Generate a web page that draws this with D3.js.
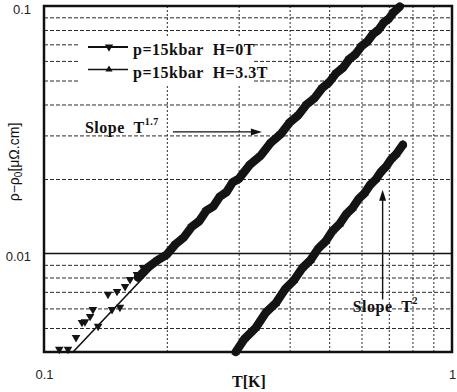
<!DOCTYPE html>
<html><head><meta charset="utf-8">
<script src="https://cdn.jsdelivr.net/npm/d3@7"></script>
<style>
html,body{margin:0;padding:0;background:#fff;}
svg{display:block;}
</style></head>
<body>
<svg id="chart" width="457" height="392"></svg>
<script>
// ---- data ----
const xTickValues = [0.1, 1];
const xTickLabels = ["0.1", "1"];
const yTickValues = [0.01, 0.1];
const yTickLabels = ["0.01", "0.1"];
const xGrid = [0.2, 0.3, 0.4, 0.5, 0.6, 0.7, 0.8, 0.9];
const yGrid = [0.005, 0.006, 0.007, 0.008, 0.009, 0.02, 0.03, 0.04, 0.05, 0.06, 0.07, 0.08, 0.09];

// p=15kbar H=0T (down triangles) - dense band
const h0T   = [0.17, 0.18, 0.19, 0.20, 0.21, 0.22, 0.23, 0.24, 0.25, 0.26, 0.27, 0.28, 0.29, 0.30, 0.32, 0.34, 0.36, 0.38, 0.40, 0.42, 0.44, 0.46, 0.48, 0.50, 0.52, 0.54, 0.56, 0.58, 0.60, 0.62, 0.64, 0.66, 0.68, 0.70, 0.72, 0.745];
const h0Rho = [0.0080, 0.0088, 0.0094, 0.0099, 0.0109, 0.0116, 0.0128, 0.0135, 0.0149, 0.0155, 0.0170, 0.0177, 0.0194, 0.0200, 0.0229, 0.0249, 0.0281, 0.0303, 0.0338, 0.0362, 0.0400, 0.0424, 0.0465, 0.0492, 0.0535, 0.0562, 0.0610, 0.0638, 0.0688, 0.0718, 0.0770, 0.0800, 0.0856, 0.0888, 0.0945, 0.0995];
// p=15kbar H=0T low-temperature points (scattered)
const h0LowT   = [0.109, 0.1145, 0.1198, 0.1239, 0.126, 0.1297, 0.1318, 0.1357, 0.1435, 0.1468, 0.151, 0.1535, 0.158, 0.1625, 0.169, 0.1748];
const h0LowRho = [0.0041, 0.0041, 0.00458, 0.00527, 0.0053, 0.00557, 0.00594, 0.00508, 0.00684, 0.00594, 0.00703, 0.00606, 0.00736, 0.00785, 0.00823, 0.00878];

// p=15kbar H=3.3T (up triangles)
const h33T   = [0.295, 0.31, 0.33, 0.35, 0.37, 0.39, 0.41, 0.43, 0.45, 0.47, 0.49, 0.51, 0.53, 0.55, 0.57, 0.59, 0.61, 0.63, 0.65, 0.67, 0.69, 0.71, 0.73, 0.758];
const h33Rho = [0.0040, 0.00452, 0.00500, 0.00578, 0.00630, 0.00718, 0.00780, 0.00875, 0.00940, 0.01048, 0.01120, 0.01236, 0.01315, 0.01440, 0.01525, 0.01660, 0.01750, 0.01895, 0.01990, 0.02140, 0.02250, 0.02410, 0.02520, 0.0275];

// T^1.7 fit line end points
const fitT   = [0.1178, 0.745];
const fitRho = [0.0040, 0.1000];

const legendLabels = ["p=15kbar  H=0T", "p=15kbar  H=3.3T"];

// ---- layout ----
const svg = d3.select("#chart");
const L = 44, R = 452, T = 6, B = 352;
const x = d3.scaleLog().domain([0.1, 1]).range([L, R]);
const y = d3.scaleLog().domain([0.004, 0.1]).range([B, T]);

// grid
const gH = svg.append("g").attr("transform", `translate(${L},0)`)
  .call(d3.axisLeft(y).tickValues(yGrid).tickSize(-(R - L)).tickFormat(""));
gH.select(".domain").remove();
gH.selectAll("line").attr("stroke", "#2a2a2a").attr("stroke-width", 1).attr("stroke-dasharray", "4,2");

const gV = svg.append("g").attr("transform", `translate(0,${B})`)
  .call(d3.axisBottom(x).tickValues(xGrid).tickSize(-(B - T)).tickFormat(""));
gV.select(".domain").remove();
gV.selectAll("line").attr("stroke", "#2a2a2a").attr("stroke-width", 1).attr("stroke-dasharray", "2,2");

// major line at 0.01
svg.append("line").attr("x1", L).attr("x2", R).attr("y1", y(0.01)).attr("y2", y(0.01))
  .attr("stroke", "#111").attr("stroke-width", 1.6);

// legend background (covers grid)
svg.append("rect").attr("x", 78).attr("y", 36).attr("width", 175).attr("height", 50).attr("fill", "#fff");

// fit line
const line = d3.line().x(d => x(d[0])).y(d => y(d[1]));
svg.append("path").datum(fitT.map((t, i) => [t, fitRho[i]]))
  .attr("d", line).attr("fill", "none").attr("stroke", "#111").attr("stroke-width", 1.6);

// bands
const h0 = h0T.map((t, i) => [t, h0Rho[i]]);
const h0Low = h0LowT.map((t, i) => [t, h0LowRho[i]]);
const h33 = h33T.map((t, i) => [t, h33Rho[i]]);

svg.append("path").datum(h0).attr("d", line).attr("fill", "none")
  .attr("stroke", "#141414").attr("stroke-width", 8.5).attr("stroke-linejoin", "round").attr("stroke-linecap", "round");
svg.append("path").datum(h33).attr("d", line).attr("fill", "none")
  .attr("stroke", "#141414").attr("stroke-width", 8.5).attr("stroke-linejoin", "round").attr("stroke-linecap", "round");

const tri = d3.symbol().type(d3.symbolTriangle).size(32);
function markers(data, down) {
  svg.append("g").selectAll("path").data(data).join("path")
    .attr("d", tri)
    .attr("transform", d => `translate(${x(d[0])},${y(d[1])}) rotate(${down ? 180 : 0})`)
    .attr("fill", "#141414");
}
markers(h0, true);
markers(h0Low, true);
markers(h33, false);

// frame
svg.append("rect").attr("x", L).attr("y", T).attr("width", R - L).attr("height", B - T)
  .attr("fill", "none").attr("stroke", "#111").attr("stroke-width", 2.5);

// axes labels
const gy = svg.append("g").attr("transform", `translate(${L},0)`)
  .call(d3.axisLeft(y).tickValues(yTickValues).tickSize(0).tickPadding(13)
    .tickFormat((d, i) => yTickLabels[i]));
gy.select(".domain").remove();
gy.selectAll("text").attr("font-family", "Liberation Sans, Arial, sans-serif").attr("font-size", 13)
  .attr("fill", "#222").attr("dy", "0.55em");

const gx = svg.append("g").attr("transform", `translate(0,${B})`)
  .call(d3.axisBottom(x).tickValues(xTickValues).tickSize(0).tickPadding(18)
    .tickFormat((d, i) => xTickLabels[i]));
gx.select(".domain").remove();
gx.selectAll("text").attr("font-family", "Liberation Sans, Arial, sans-serif").attr("font-size", 13).attr("fill", "#222");

svg.append("text").attr("x", 249).attr("y", 387).attr("text-anchor", "middle")
  .attr("font-family", "Liberation Serif, Times New Roman, serif").attr("font-weight", "bold").attr("font-size", 16)
  .attr("fill", "#111").text("T[K]");

const yl = svg.append("text").attr("transform", "translate(19,162) rotate(-90)").attr("text-anchor", "middle")
  .attr("font-family", "Liberation Sans, Arial, sans-serif").attr("font-size", 14).attr("fill", "#111");
yl.append("tspan").text("ρ−ρ");
yl.append("tspan").attr("font-size", 10).attr("dy", 3).text("0");
yl.append("tspan").attr("dy", -3).text("[μΩ.cm]");

// legend
const serif = "Liberation Serif, Times New Roman, serif";
legendLabels.forEach((lab, i) => {
  const ly = 47 + i * 22.5;
  svg.append("line").attr("x1", 88).attr("x2", 128).attr("y1", ly).attr("y2", ly)
    .attr("stroke", "#111").attr("stroke-width", i === 0 ? 2 : 1.3);
  svg.append("path").attr("d", d3.symbol().type(d3.symbolTriangle).size(i === 0 ? 30 : 22))
    .attr("transform", `translate(109,${ly}) rotate(${i === 0 ? 180 : 0})`).attr("fill", "#111");
  svg.append("text").attr("x", 133).attr("y", ly + 8).attr("font-family", serif).attr("font-weight", "bold")
    .attr("font-size", 16).attr("letter-spacing", 0.5).attr("fill", "#111")
    .style("white-space", "pre").text(lab);
});

// annotations
function slopeLabel(t, rho, sup) {
  const tx = svg.append("text").attr("x", x(t)).attr("y", y(rho)).attr("font-family", serif)
    .attr("font-weight", "bold").attr("font-size", 16).attr("letter-spacing", 0.5).attr("fill", "#111")
    .style("white-space", "pre");
  tx.append("tspan").text("Slope  T");
  tx.append("tspan").attr("font-size", 10).attr("dy", -8).text(sup);
}
slopeLabel(0.126, 0.0308, "1.7");
slopeLabel(0.571, 0.00583, "2");

function arrow(x1, y1, x2, y2) {
  const ang = Math.atan2(y2 - y1, x2 - x1);
  const hl = 11, hw = 3.5;
  svg.append("line").attr("x1", x1).attr("y1", y1)
    .attr("x2", x2 - Math.cos(ang) * hl * 0.8).attr("y2", y2 - Math.sin(ang) * hl * 0.8)
    .attr("stroke", "#111").attr("stroke-width", 1.4);
  const bx = x2 - Math.cos(ang) * hl, by = y2 - Math.sin(ang) * hl;
  const px = -Math.sin(ang) * hw, py = Math.cos(ang) * hw;
  svg.append("path").attr("d", `M${x2},${y2}L${bx + px},${by + py}L${bx - px},${by - py}Z`).attr("fill", "#111");
}
arrow(x(0.207), y(0.0310), x(0.342), y(0.0310));
arrow(x(0.676), y(0.00652), x(0.676), y(0.0181));
</script>
</body></html>
